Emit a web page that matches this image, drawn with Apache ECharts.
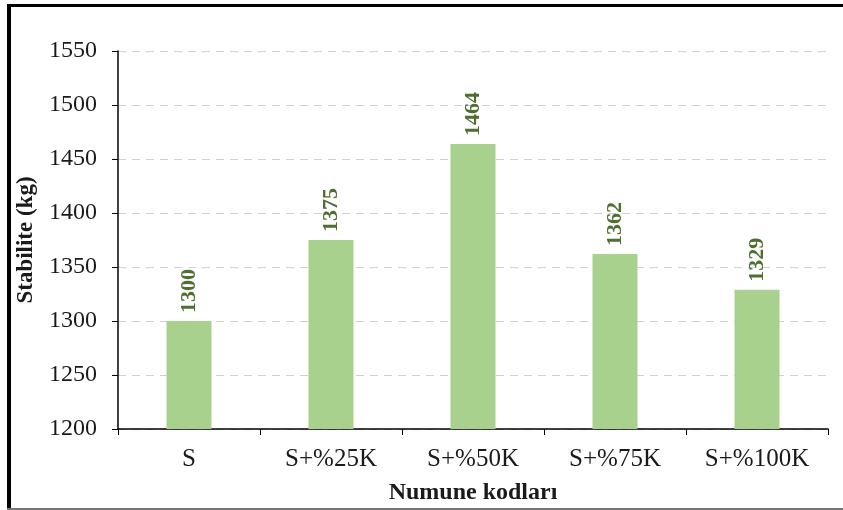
<!DOCTYPE html>
<html>
<head>
<meta charset="utf-8">
<script src="https://cdn.jsdelivr.net/npm/echarts@6/dist/echarts.min.js"></script>
<style>
html,body{margin:0;padding:0;background:#fff;}
#wrap{position:absolute;left:0;top:0;width:843px;height:510px;}
#bt{position:absolute;left:7px;top:4px;width:836px;height:3px;background:#000;}
#bl{position:absolute;left:7px;top:4px;width:4px;height:506px;background:#000;}
#bb{position:absolute;left:7px;top:508px;width:836px;height:2px;background:#777;}
#chart{position:absolute;left:0;top:0;width:843px;height:510px;}
</style>
</head>
<body>
<div id="wrap">
<div id="chart"></div>
<div id="bt"></div><div id="bl"></div><div id="bb"></div>
</div>
<script>
const categories = ['S', 'S+%25K', 'S+%50K', 'S+%75K', 'S+%100K'];
const values = [1300, 1375, 1464, 1362, 1329];
const yTicks = {min: 1200, max: 1550, interval: 50};

const chart = echarts.init(document.getElementById('chart'), null, {renderer: 'canvas'});
const font = '"Liberation Serif", "Times New Roman", serif';
chart.setOption({
  animation: false,
  backgroundColor: '#fff',
  grid: {left: 118, right: 15, top: 51, bottom: 81},
  xAxis: {
    type: 'category',
    data: categories,
    name: 'Numune kodları',
    nameLocation: 'middle',
    nameGap: 52,
    nameTextStyle: {fontFamily: font, fontWeight: 'bold', fontSize: 24, color: '#1a1a1a'},
    axisLine: {lineStyle: {color: '#000', width: 1.5}},
    axisTick: {show: true, length: 6, lineStyle: {color: '#000'}},
    axisLabel: {fontFamily: font, fontSize: 25, color: '#1a1a1a', margin: 18}
  },
  yAxis: {
    type: 'value',
    min: yTicks.min, max: yTicks.max, interval: yTicks.interval,
    name: 'Stabilite (kg)',
    nameLocation: 'middle',
    nameGap: 80,
    nameTextStyle: {fontFamily: font, fontWeight: 'bold', fontSize: 23, color: '#1a1a1a'},
    axisLine: {show: true, lineStyle: {color: '#000', width: 1.5}},
    axisTick: {show: true, length: 6, lineStyle: {color: '#000'}},
    axisLabel: {fontFamily: font, fontSize: 24, color: '#1a1a1a', margin: 21, formatter: v => String(v)},
    splitLine: {show: true, lineStyle: {color: '#d0d0d0', type: [8, 6], width: 1}}
  },
  series: [{
    type: 'bar',
    data: values,
    barWidth: 45,
    itemStyle: {color: '#a9d18e'},
    label: {
      show: true,
      position: 'top',
      rotate: 90,
      align: 'left',
      verticalAlign: 'middle',
      distance: 8,
      fontFamily: font,
      fontWeight: 'bold',
      fontSize: 22,
      color: '#4f6f30'
    }
  }]
});
</script>
</body>
</html>
